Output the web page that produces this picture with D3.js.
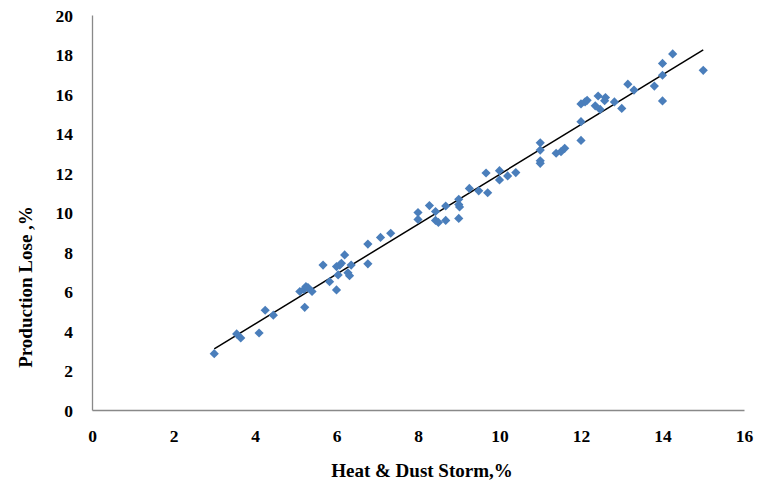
<!DOCTYPE html>
<html>
<head>
<meta charset="utf-8">
<script src="https://cdn.jsdelivr.net/npm/d3@7"></script>
<style>
  body { margin: 0; background: #fff; }
  text { font-family: "Liberation Serif", "Times New Roman", serif; font-weight: bold; }
</style>
</head>
<body>
<svg id="chart" width="760" height="486"></svg>
<script>
// heat & dust storm (%) vs production lose (%)
const heatDust = [
  3.0, 3.55, 3.65, 4.1, 4.25, 4.45, 5.1, 5.2, 5.25, 5.3, 5.4, 5.22,
  5.67, 5.83, 6.0, 6.0, 6.04, 6.08, 6.12, 6.2, 6.28, 6.32, 6.36, 6.77,
  6.77, 7.08, 7.33, 8.0, 8.0, 8.28, 8.43, 8.43, 8.5, 8.68, 8.68, 9.0,
  9.0, 9.02, 9.0, 9.26, 9.49, 9.67, 9.71, 10.0, 10.0, 10.2, 10.4, 11.0,
  11.0, 11.0, 11.0, 11.39, 11.51, 11.6, 12.0, 12.0, 12.0, 12.1, 12.15, 12.35,
  12.42, 12.47, 12.6, 12.58, 12.82, 13.0, 13.15, 13.3, 13.8, 14.0, 14.0, 14.0,
  14.25, 15.0
];
const productionLose = [
  2.85, 3.85, 3.65, 3.9, 5.05, 4.8, 6.0, 6.1, 6.25, 6.2, 6.0, 5.2,
  7.34, 6.5, 6.08, 7.26, 6.84, 7.34, 7.43, 7.85, 6.95, 6.8, 7.34, 8.4,
  7.4, 8.74, 8.95, 10.0, 9.65, 10.35, 10.05, 9.6, 9.5, 10.33, 9.6, 10.67,
  10.4, 10.28, 9.7, 11.22, 11.1, 12.0, 11.0, 12.12, 11.65, 11.85, 12.02, 13.53,
  13.16, 12.62, 12.49, 13.0, 13.08, 13.25, 14.6, 13.65, 15.5, 15.6, 15.68, 15.4,
  15.9, 15.22, 15.82, 15.66, 15.6, 15.27, 16.5, 16.2, 16.4, 17.55, 16.95, 15.65,
  18.03, 17.2
];
const xTicks = [0, 2, 4, 6, 8, 10, 12, 14, 16];
const yTicks = [0, 2, 4, 6, 8, 10, 12, 14, 16, 18, 20];

const data = heatDust.map((x, i) => ({ x: x, y: productionLose[i] }));

const svg = d3.select('#chart'),
  margin = { top: 15, right: 15, bottom: 76, left: 92 },
  width = 760 - margin.left - margin.right,
  height = 486 - margin.top - margin.bottom;

const graph = svg.append('g')
  .attr('transform', 'translate(' + margin.left + ',' + margin.top + ')');

const x = d3.scaleLinear().domain([0, 16]).range([0, width - 1]);
const y = d3.scaleLinear().domain([0, 20]).range([height, 0]);

// axes, no tick marks
const xAxis = d3.axisBottom(x).tickValues(xTicks).tickSize(0).tickPadding(20);
const yAxis = d3.axisLeft(y).tickValues(yTicks).tickSize(0).tickPadding(19);

const xAxisGroup = graph.append('g')
  .attr('transform', `translate(0, ${height})`)
  .call(xAxis);
const yAxisGroup = graph.append('g').call(yAxis);

[xAxisGroup, yAxisGroup].forEach(g => {
  g.select('.domain').attr('stroke', '#898989').attr('stroke-width', 1.3);
  g.selectAll('text')
    .attr('fill', '#000')
    .style('font-size', '17.5px')
    .style('font-family', '"Liberation Serif", serif')
    .style('font-weight', 'bold');
});
yAxisGroup.selectAll('text').attr('dy', '0.35em');

// linear trendline (least squares)
const mx = d3.mean(data, d => d.x), my = d3.mean(data, d => d.y);
const slope = d3.sum(data, d => (d.x - mx) * (d.y - my)) / d3.sum(data, d => (d.x - mx) ** 2);
const icept = my - slope * mx;
const ext = d3.extent(data, d => d.x);

graph.append('line')
  .attr('x1', x(ext[0])).attr('y1', y(icept + slope * ext[0]))
  .attr('x2', x(ext[1])).attr('y2', y(icept + slope * ext[1]))
  .attr('stroke', '#000')
  .attr('stroke-width', 1.5);

// diamonds
graph.selectAll('path.pt')
  .data(data)
  .enter()
  .append('path')
  .attr('class', 'pt')
  .attr('d', 'M0,-4.6L4.6,0L0,4.6L-4.6,0Z')
  .attr('transform', d => `translate(${x(d.x)},${y(d.y)})`)
  .attr('fill', '#4a7ebb');

// axis titles
svg.append('text')
  .attr('x', 422).attr('y', 477)
  .attr('text-anchor', 'middle')
  .style('font-size', '19px')
  .text('Heat & Dust Storm,%');

svg.append('text')
  .attr('transform', 'translate(32, 287) rotate(-90)')
  .attr('text-anchor', 'middle')
  .style('font-size', '19px')
  .text('Production Lose ,%');
</script>
</body>
</html>
